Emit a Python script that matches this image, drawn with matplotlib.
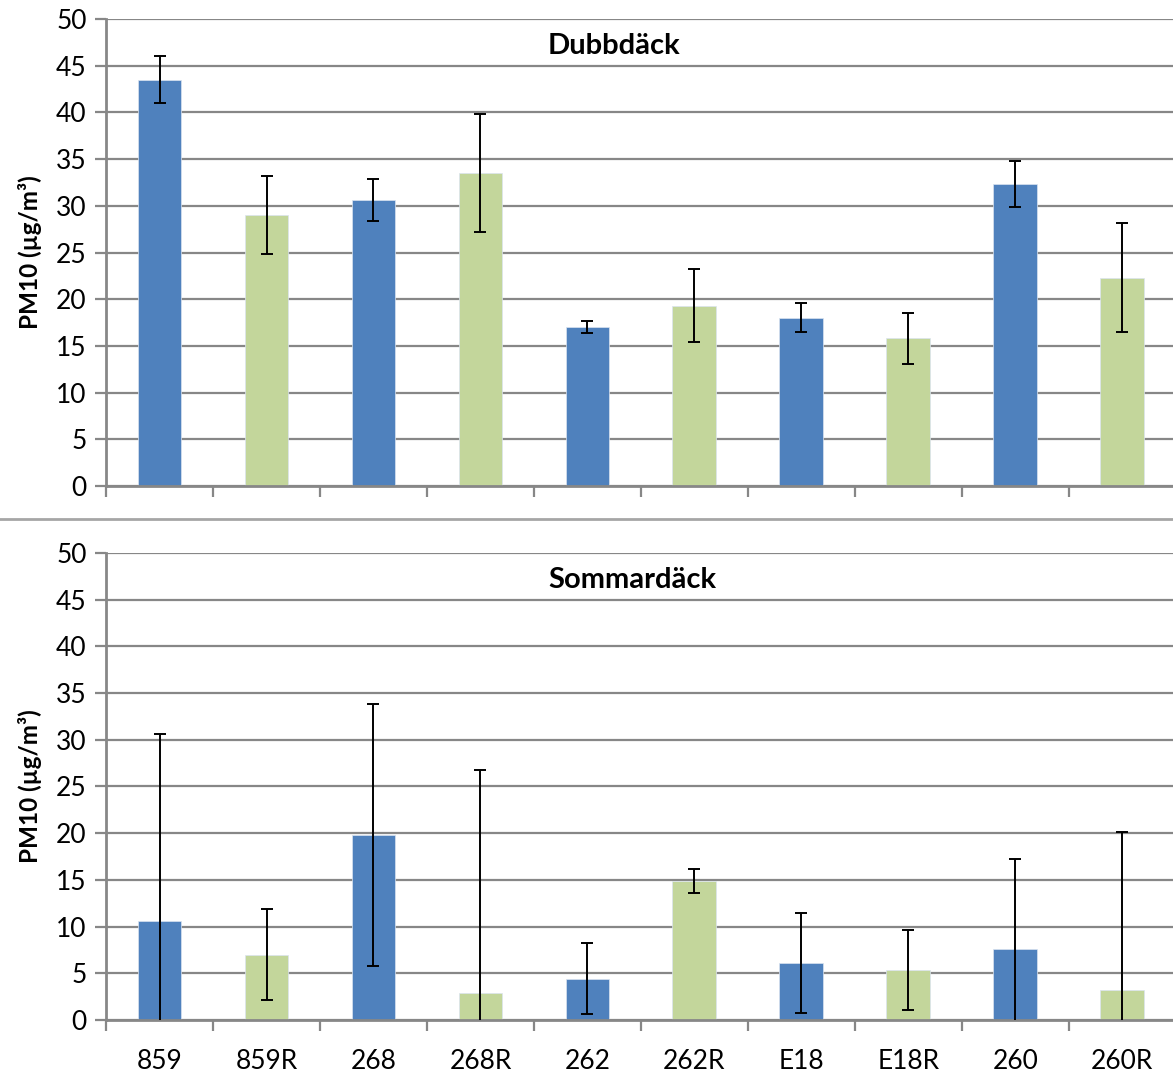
import numpy as np
import matplotlib
matplotlib.use("Agg")
import matplotlib.pyplot as plt
from matplotlib.lines import Line2D

plt.rcParams['font.family'] = ['Lato', 'DejaVu Sans']

sites = ["859", "859R", "268", "268R", "262", "262R", "E18", "E18R", "260", "260R"]

# PM10 means and error bar half-widths, studded tyres
dubb_mean = [43.5, 29.0, 30.6, 33.5, 17.0, 19.3, 18.0, 15.8, 32.3, 22.3]
dubb_err = [2.5, 4.2, 2.25, 6.3, 0.65, 3.9, 1.55, 2.7, 2.45, 5.85]

# PM10 means and error bar half-widths, summer tyres
sommar_mean = [10.6, 7.0, 19.8, 2.9, 4.4, 14.9, 6.1, 5.35, 7.6, 3.2]
sommar_err = [20.0, 4.85, 14.0, 23.9, 3.8, 1.3, 5.4, 4.3, 9.6, 16.9]

blue = "#4F81BD"
green = "#C3D69B"
grey = "#878787"
colors = [blue if not s.endswith("R") else green for s in sites]

fig = plt.figure(figsize=(11.73, 10.75), dpi=100)
ax_top = fig.add_axes([0.0904, 0.5479, 0.912, 0.4344])
ax_bot = fig.add_axes([0.0904, 0.0512, 0.912, 0.4344])

x = np.arange(len(sites))


def draw(ax, means, errs, title, title_x, show_labels):
    ax.set_axisbelow(True)
    ax.yaxis.grid(True, color=grey, linewidth=1.6)
    ax.bar(x, means, width=0.41, color=colors, edgecolor="#dbe4f0",
           linewidth=0.5, zorder=2)
    ax.errorbar(x, means, yerr=errs, fmt="none", ecolor="black",
                elinewidth=1.4, capsize=4, capthick=1.4, zorder=3)
    ax.set_ylim(0, 50)
    ax.set_xlim(-0.5, 9.47)
    ax.set_yticks(np.arange(0, 51, 5))
    ax.set_xticks(np.arange(-0.5, 10, 1.0))
    ax.set_xticklabels([])
    if show_labels:
        ax.set_xticks(x, minor=True)
        ax.set_xticklabels(sites, minor=True)
        ax.tick_params(axis="x", which="minor", length=0, pad=21,
                       labelsize=19)
    for side in ["top", "right"]:
        ax.spines[side].set_visible(False)
    for side in ["left", "bottom"]:
        ax.spines[side].set_color(grey)
        ax.spines[side].set_linewidth(2)
    ax.tick_params(axis="y", which="major", length=8, width=1.6,
                   color=grey, labelsize=19, pad=6)
    ax.tick_params(axis="x", which="major", length=8, width=1.6,
                   color=grey, direction="out")
    ax.set_ylabel("PM10 (µg/m³)", fontsize=17.5, fontweight="bold", labelpad=10)
    ax.text(title_x, 0.943, title, transform=ax.transAxes, ha="center",
            va="center", fontsize=21, fontweight="bold")


draw(ax_top, dubb_mean, dubb_err, "Dubbdäck", 0.475, False)
draw(ax_bot, sommar_mean, sommar_err, "Sommardäck", 0.492, True)

# divider between the two panels
fig.add_artist(Line2D([0, 1], [0.5172, 0.5172], transform=fig.transFigure,
                      color="#a6a6a6", linewidth=2))

fig.savefig("out.png", dpi=100)
